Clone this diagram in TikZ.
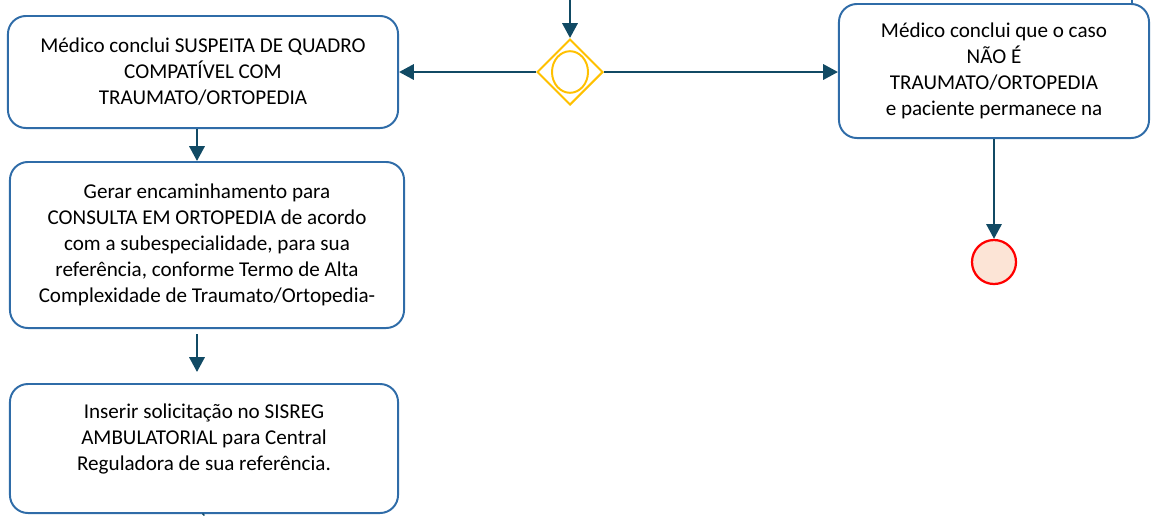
\documentclass[tikz,border=0pt]{standalone}
\usepackage{fontspec}
\setmainfont{Carlito}
\usetikzlibrary{arrows.meta,shapes.geometric,positioning}
\definecolor{boxblue}{HTML}{2F6CA8}
\definecolor{flowteal}{HTML}{114A64}
\definecolor{gateyellow}{HTML}{FFC000}
\definecolor{endfill}{HTML}{FCE4D6}

\begin{document}
\begin{tikzpicture}[x=0.025cm,y=-0.025cm,
  task/.style={draw=boxblue,line width=1.4pt,rounded corners=0.45cm,inner sep=0pt,align=center,font=\fontsize{15}{18.5}\selectfont},
  flow/.style={draw=flowteal,line width=1.8pt,-{Triangle[width=0.38cm,length=0.37cm]}},
  gate/.style={diamond,draw=gateyellow,line width=1.4pt,minimum width=1.65cm,minimum height=1.65cm,inner sep=0pt},
  endev/.style={circle,draw=red,fill=endfill,line width=1.6pt,minimum size=1.1cm,inner sep=0pt}]
\useasboundingbox (0,0) rectangle (1156,515);
\node[task,minimum width=9.75cm,minimum height=2.8cm] (suspeita) at (203,72) {Médico conclui SUSPEITA DE QUADRO\\ COMPATÍVEL COM\\ TRAUMATO/ORTOPEDIA};
\node[task,minimum width=9.85cm,minimum height=4.15cm] (encaminhar) at (207,245) {Gerar encaminhamento para\\ CONSULTA EM ORTOPEDIA de acordo\\ com a subespecialidade, para sua\\ referência, conforme Termo de Alta\\ Complexidade de Traumato/Ortopedia-};
\node[task,minimum width=9.7cm,minimum height=3.225cm] (sisreg) at (204,448.5) {};
\node[align=center,inner sep=0pt,font=\fontsize{15}{18.5}\selectfont] (sisregtxt) at (204,439) {Inserir solicitação no SISREG\\ AMBULATORIAL para Central\\ Reguladora de sua referência.};
\node[task,minimum width=7.75cm,minimum height=3.35cm] (naoe) at (994,71) {Médico conclui que o caso\\ NÃO É\\ TRAUMATO/ORTOPEDIA\\ e paciente permanece na};
\node[gate] (gw) at (570,72) {};
\draw[gateyellow,line width=1.4pt] (gw.center) ellipse [x radius=0.45cm, y radius=0.52cm];
\node[endev] (fim) at (994,262) {};
\coordinate (entrada) at (570,0);
\coordinate (saida4) at (1132,0);
\coordinate (seta1) at (197,334);
\coordinate (seta2) at (197,372);
\coordinate (saida3) at (203,515);
% fluxos
\draw[flow] (entrada) -- (gw.north);
\draw[flow] (gw.west) -- (suspeita.east);
\draw[flow] (gw.east) -- (gw.east -| naoe.west);
\draw[flow] ([xshift=-0.15cm]suspeita.south) -- ([xshift=-0.15cm]suspeita.south |- encaminhar.north);
\draw[flow] (seta1) -- (seta2);
\draw[flow] (naoe.south) -- (fim.north);
\draw[boxblue,line width=1.4pt] (saida4) -- (saida4 |- naoe.north);
\draw[flowteal,line width=1.8pt] (sisreg.south) -- (saida3);
\end{tikzpicture}
\end{document}
